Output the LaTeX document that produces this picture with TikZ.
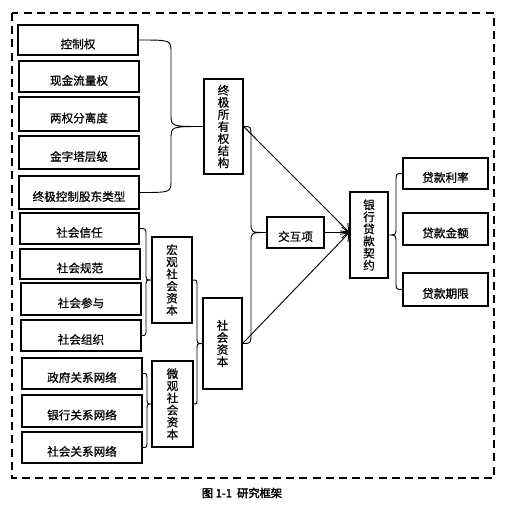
\documentclass[tikz,border=0pt]{standalone}
\usepackage{fontspec}
\newfontfamily\cjk[AutoFakeBold=2.5]{Noto Sans CJK SC}
\newfontfamily\cjkm[FakeBold=0.7]{Noto Sans CJK SC}
\usetikzlibrary{arrows.meta,calc}
\tikzset{
  box/.style={draw, line width=1.8pt, inner sep=0pt, font=\cjkm\fontsize{16.5}{17.2}\selectfont, align=center},
  hbox/.style={box, text height=26pt, text depth=2pt},
  conn/.style={line width=1.3pt},
  arr/.style={line width=1.3pt, -{Straight Barb[length=3.5mm,width=5.5mm,line width=1.3pt]}},
  frame/.style={line width=2.2pt, dash pattern=on 4mm off 2.6mm}
}
\newcommand\bx[7]{\node[#7, minimum width={(#4-#2)*0.5mm}, minimum height={(#5-#3)*0.5mm}] (#1) at ({(#2+#4)/2},{(#3+#5)/2}) {#6};}
\newcommand\curly[5]{%
  \draw[conn] (#1) .. controls (#1 -| #4) .. ($(#1 -| #4)+(0,#5)$)
    -- ($(#3 -| #4)-(0,#5)$) .. controls (#3 -| #4) .. (#3)
    .. controls (#3 -| #4) .. ($(#3 -| #4)+(0,#5)$)
    -- ($(#2 -| #4)-(0,#5)$) .. controls (#2 -| #4) .. (#2);}
\begin{document}
\begin{tikzpicture}[x=0.5mm,y=-0.5mm]
\useasboundingbox (0,0) rectangle (512,506);
\draw[frame] (12,13) rectangle (494,478);
% ownership
\bx{kz}{18}{25}{138}{55}{控制权}{hbox}
\bx{xj}{19}{61}{139}{92}{现金流量权}{hbox}
\bx{lq}{19}{97}{139}{131}{两权分离度}{hbox}
\bx{jz}{19}{136}{139}{169}{金字塔层级}{hbox}
\bx{zk}{19}{176}{139}{209}{终极控制股东类型}{hbox}
% social
\bx{xr}{20}{213}{139}{244}{社会信任}{hbox}
\bx{gf}{20}{249}{140}{279}{社会规范}{hbox}
\bx{cy}{21}{283}{141}{315}{社会参与}{hbox}
\bx{zz}{21}{320}{141}{351}{社会组织}{hbox}
\bx{zf}{22}{358}{142}{389}{政府关系网络}{hbox}
\bx{yx}{22}{395}{142}{427}{银行关系网络}{hbox}
\bx{sg}{22}{432}{142}{463}{社会关系网络}{hbox}
\bx{hg}{152}{237}{192}{323}{宏\\观\\社\\会\\资\\本}{box}
\bx{wg}{152}{361}{193}{447}{微\\观\\社\\会\\资\\本}{box}
\bx{sz}{203}{298}{242}{389}{社\\会\\资\\本}{box}
\bx{zj}{204}{79}{243}{174}{终\\极\\所\\有\\权\\结\\构}{box}
\bx{jh}{267}{217}{324}{248}{交互项}{hbox}
\bx{yh}{350}{192}{388}{278}{银\\行\\贷\\款\\契\\约}{box}
\bx{ll}{403}{158}{488}{189}{贷款利率}{hbox}
\bx{je}{403}{213}{488}{245}{贷款金额}{hbox}
\bx{qx}{403}{273}{488}{306}{贷款期限}{hbox}
% spines
\coordinate (s1) at (171,0);
\coordinate (s2) at (146,0);
\coordinate (s3) at (147,0);
\coordinate (s4) at (197,0);
\coordinate (s5) at (251,0);
\coordinate (s6) at (396,0);
\curly{kz.east}{zk.east}{zj.west}{s1}{12}
\curly{xr.east}{zz.east}{hg.west}{s2}{7}
\curly{zf.east}{sg.east}{wg.west}{s3}{7}
\curly{hg.east}{wg.east}{sz.west}{s4}{7}
\curly{zj.east}{sz.east}{jh.west}{s5}{10}
\curly{ll.west}{qx.west}{yh.east}{s6}{8}
% arrows
\draw[arr] (zj.east) -- (jh.east -| yh.west);
\draw[arr] (sz.east) -- (jh.east -| yh.west);
\draw[arr] (jh.east) -- (jh.east -| yh.west);
% caption
\node[font=\cjk\fontsize{16}{17}\selectfont\bfseries] (cap) at (242,493) {图 1-1\ \ 研究框架};
\end{tikzpicture}
\end{document}
